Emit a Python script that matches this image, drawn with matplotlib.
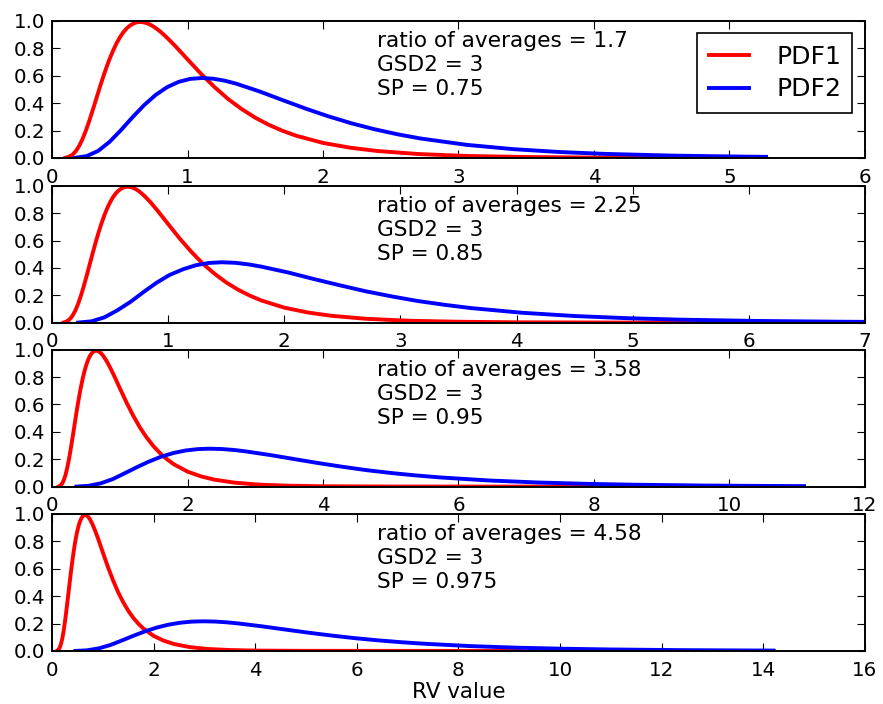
import matplotlib
matplotlib.use("Agg")
import matplotlib.pyplot as plt
from matplotlib.ticker import FormatStrFormatter

# ---- data ----
pdf1_x = [0.10, 0.125, 0.15, 0.175, 0.20, 0.225, 0.25, 0.275, 0.30, 0.325, 0.35, 0.375,
          0.40, 0.425, 0.45, 0.475, 0.50, 0.525, 0.55, 0.575, 0.60, 0.625, 0.65, 0.675,
          0.70, 0.725, 0.75, 0.775, 0.80, 0.85, 0.90, 0.95, 1.00, 1.10, 1.20, 1.30,
          1.40, 1.50, 1.60, 1.70, 1.80, 2.00, 2.20, 2.40, 2.70, 3.00, 3.10, 3.50,
          4.00, 5.00]
pdf1_y = [0.002, 0.009, 0.023, 0.049, 0.087, 0.138, 0.200, 0.271, 0.348, 0.427, 0.507, 0.584,
          0.656, 0.723, 0.782, 0.835, 0.879, 0.916, 0.945, 0.966, 0.981, 0.990, 0.993, 0.990,
          0.984, 0.973, 0.959, 0.941, 0.922, 0.877, 0.827, 0.774, 0.720, 0.614, 0.517, 0.430,
          0.357, 0.294, 0.242, 0.199, 0.163, 0.110, 0.075, 0.051, 0.029, 0.017, 0.014, 0.007,
          0.003, 0.001]
pdf1_end_x = [5.27, 6.98, 11.10, 14.20]
pdf1_end_y = [0.0, 0.0, 0.0, 0.0]

pdf2_x_a = [0.17, 0.255, 0.34, 0.425, 0.51, 0.595, 0.68, 0.765, 0.85, 0.935, 1.02, 1.105,
            1.19, 1.275, 1.36, 1.53, 1.70, 1.87, 2.04, 2.21, 2.38, 2.55, 2.72, 3.06,
            3.40, 3.74, 4.08, 4.59, 5.10, 5.27]
pdf2_y_a = [0.0012, 0.0135, 0.0512, 0.1179, 0.2047, 0.2981, 0.3859, 0.4602, 0.5171, 0.5557,
            0.5772, 0.5839, 0.5786, 0.5639, 0.5422, 0.4862, 0.4232, 0.3611, 0.3039, 0.2532,
            0.2097, 0.1729, 0.1422, 0.0959, 0.0647, 0.0438, 0.0298, 0.0170, 0.0099, 0.0083]

pdf2_x_b = [0.225, 0.34, 0.45, 0.56, 0.68, 0.79, 0.90, 1.01, 1.13, 1.24, 1.35, 1.46,
            1.58, 1.69, 1.80, 2.03, 2.25, 2.48, 2.70, 2.93, 3.15, 3.38, 3.60, 4.05,
            4.50, 4.95, 5.40, 6.08, 6.75, 6.98]
pdf2_y_b = [0.0009, 0.0102, 0.0387, 0.0891, 0.1547, 0.2252, 0.2916, 0.3477, 0.3907, 0.4199,
            0.4361, 0.4412, 0.4372, 0.4260, 0.4097, 0.3673, 0.3198, 0.2728, 0.2296, 0.1913,
            0.1584, 0.1307, 0.1075, 0.0724, 0.0489, 0.0331, 0.0225, 0.0128, 0.0075, 0.0063]

pdf2_x_c = [0.36, 0.54, 0.72, 0.90, 1.07, 1.25, 1.43, 1.61, 1.79, 1.97, 2.15, 2.33,
            2.51, 2.69, 2.86, 3.22, 3.58, 3.94, 4.30, 4.65, 5.01, 5.37, 5.73, 6.44,
            7.16, 7.88, 8.59, 9.67, 10.74, 11.10]
pdf2_y_c = [0.0006, 0.0064, 0.0243, 0.0560, 0.0972, 0.1415, 0.1832, 0.2185, 0.2455, 0.2639,
            0.2741, 0.2773, 0.2747, 0.2678, 0.2575, 0.2309, 0.2010, 0.1715, 0.1443, 0.1202,
            0.0996, 0.0821, 0.0675, 0.0455, 0.0307, 0.0208, 0.0142, 0.0081, 0.0047, 0.0039]

pdf2_x_d = [0.46, 0.69, 0.92, 1.15, 1.37, 1.60, 1.83, 2.06, 2.29, 2.52, 2.75, 2.98,
            3.21, 3.44, 3.66, 4.12, 4.58, 5.04, 5.50, 5.95, 6.41, 6.87, 7.33, 8.24,
            9.16, 10.08, 10.99, 12.37, 13.74, 14.20]
pdf2_y_d = [0.0004, 0.0050, 0.0190, 0.0438, 0.0760, 0.1106, 0.1432, 0.1708, 0.1919, 0.2063,
            0.2143, 0.2167, 0.2148, 0.2093, 0.2013, 0.1805, 0.1571, 0.1340, 0.1128, 0.0940,
            0.0778, 0.0642, 0.0528, 0.0356, 0.0240, 0.0163, 0.0111, 0.0063, 0.0037, 0.0031]

ratios = ["1.7", "2.25", "3.58", "4.58"]
gsd2 = ["3", "3", "3", "3"]
sp_values = ["0.75", "0.85", "0.95", "0.975"]
x_limits = [6, 7, 12, 16]
pdf2_xs = [pdf2_x_a, pdf2_x_b, pdf2_x_c, pdf2_x_d]
pdf2_ys = [pdf2_y_a, pdf2_y_b, pdf2_y_c, pdf2_y_d]
labels = ["PDF1", "PDF2"]
xlabel = "RV value"

# ---- style ----
plt.rcParams['font.family'] = ['DejaVu Sans']
TICK_FS = 14.3
TEXT_FS = 15.6

fig = plt.figure(figsize=(8.83, 7.04), dpi=100)
left, width, height = 0.0589, 0.9207, 0.1946
bottoms = [0.7756, 0.5416, 0.3087, 0.0753]

for i in range(4):
    ax = fig.add_axes([left, bottoms[i], width, height])
    ax.plot(pdf1_x + [pdf1_end_x[i]], pdf1_y + [pdf1_end_y[i]],
            color='red', lw=2.8, label=labels[0], solid_joinstyle='round')
    ax.plot(pdf2_xs[i], pdf2_ys[i], color='blue', lw=2.8, label=labels[1],
            solid_joinstyle='round')
    ax.set_xlim(0, x_limits[i])
    ax.set_ylim(0, 1.0)
    ax.set_yticks([0.0, 0.2, 0.4, 0.6, 0.8, 1.0])
    ax.yaxis.set_major_formatter(FormatStrFormatter('%.1f'))
    ax.tick_params(direction='in', top=True, right=True, length=5.5, width=0.8,
                   labelsize=TICK_FS, colors='black')
    ax.tick_params(axis='x', pad=7.0)
    ax.tick_params(axis='y', pad=5)
    for sp in ax.spines.values():
        sp.set_linewidth(1.4)
        sp.set_color('black')
    ax.text(0.4, 0.928,
            "ratio of averages = %s\nGSD2 = %s\nSP = %s" % (ratios[i], gsd2[i], sp_values[i]),
            transform=ax.transAxes, ha='left', va='top', fontsize=TEXT_FS, linespacing=1.27)
    if i == 0:
        leg = ax.legend(loc='upper right', fontsize=18, fancybox=False, framealpha=1,
                        edgecolor='black', borderpad=0.45, handlelength=1.6,
                        handletextpad=1.1, labelspacing=0.35, borderaxespad=0.5)
        leg.get_frame().set_linewidth(1.2)
    if i == 3:
        ax.set_xlabel(xlabel, fontsize=15.4, labelpad=2)

fig.savefig("out.png", dpi=100)
